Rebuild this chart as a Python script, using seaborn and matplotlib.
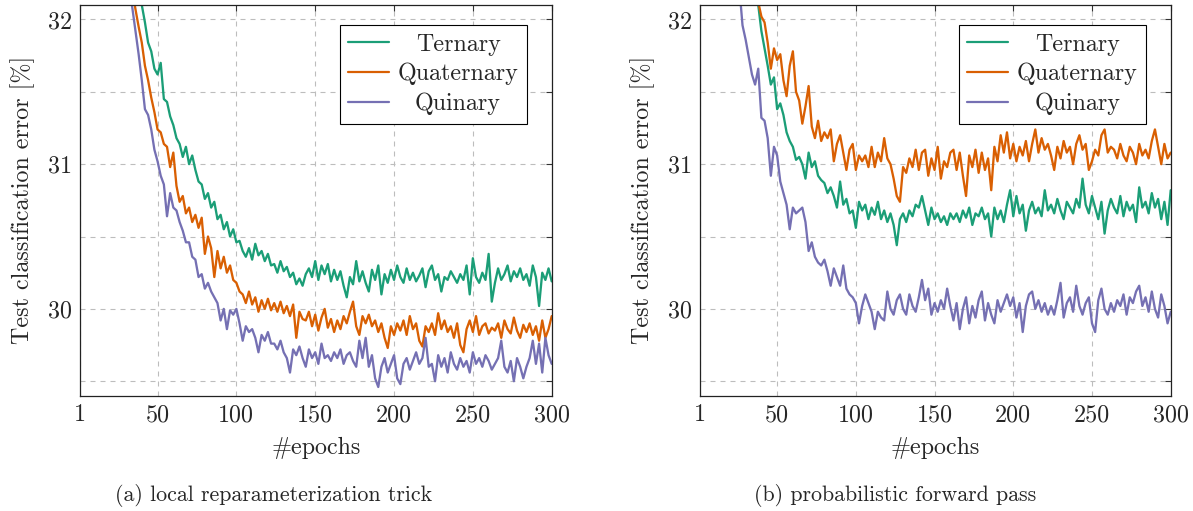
import numpy as np
import pandas as pd
import matplotlib
matplotlib.use("Agg")
import matplotlib.pyplot as plt
import seaborn as sns

# ---------------- data (every 2nd epoch) ----------------
epochs = list(range(24, 301, 2))

lrt_ternary = [
    32.90, 32.80, 32.70, 32.60, 32.50, 32.40, 32.30, 32.22, 32.10, 31.98,
    31.84, 31.78, 31.66, 31.62, 31.70, 31.45, 31.43, 31.33, 31.27, 31.18,
    31.14, 31.05, 31.12, 31.00, 31.06, 30.96, 30.88, 30.86, 30.76, 30.80,
    30.70, 30.74, 30.62, 30.65, 30.55, 30.60, 30.50, 30.55, 30.46, 30.47,
    30.40, 30.36, 30.42, 30.34, 30.45, 30.37, 30.40, 30.33, 30.38, 30.30,
    30.31, 30.25, 30.33, 30.26, 30.29, 30.22, 30.25, 30.17, 30.21, 30.16,
    30.24, 30.28, 30.22, 30.33, 30.20, 30.30, 30.24, 30.31, 30.19, 30.27,
    30.20, 30.26, 30.16, 30.08, 30.22, 30.17, 30.33, 30.19, 30.26, 30.18,
    30.12, 30.27, 30.20, 30.30, 30.10, 30.24, 30.18, 30.27, 30.20, 30.30,
    30.22, 30.18, 30.28, 30.20, 30.25, 30.19, 30.23, 30.28, 30.15, 30.26,
    30.30, 30.20, 30.24, 30.12, 30.22, 30.20, 30.26, 30.22, 30.18, 30.24,
    30.20, 30.30, 30.10, 30.35, 30.22, 30.18, 30.25, 30.20, 30.38, 30.05,
    30.18, 30.28, 30.20, 30.24, 30.30, 30.19, 30.26, 30.22, 30.28, 30.20,
    30.24, 30.16, 30.30, 30.22, 30.02, 30.25, 30.20, 30.28, 30.19,
]
lrt_quaternary = [
    32.80, 32.68, 32.56, 32.44, 32.32, 32.20, 32.07, 31.95, 31.84, 31.68,
    31.58, 31.46, 31.36, 31.24, 31.22, 31.14, 31.12, 30.98, 31.08, 30.85,
    30.74, 30.78, 30.66, 30.70, 30.60, 30.65, 30.56, 30.63, 30.38, 30.50,
    30.42, 30.22, 30.40, 30.28, 30.36, 30.25, 30.30, 30.20, 30.18, 30.12,
    30.10, 30.04, 30.12, 30.03, 30.08, 29.98, 30.06, 30.00, 30.07, 29.99,
    30.04, 29.98, 30.05, 29.97, 30.02, 29.95, 30.03, 29.80, 29.98, 29.93,
    29.92, 29.98, 29.88, 29.96, 29.85, 29.94, 30.00, 29.87, 29.93, 29.84,
    29.92, 29.86, 29.95, 29.90, 29.98, 30.05, 29.88, 29.82, 29.95, 29.90,
    29.96, 29.88, 29.92, 29.84, 29.90, 29.80, 29.73, 29.88, 29.82, 29.90,
    29.85, 29.92, 29.82, 29.95, 29.86, 29.90, 29.78, 29.74, 29.88, 29.84,
    29.90, 29.82, 29.97, 29.86, 29.92, 29.84, 29.88, 29.80, 29.90, 29.75,
    29.70, 29.86, 29.92, 29.84, 29.95, 29.82, 29.88, 29.90, 29.83, 29.87,
    29.85, 29.90, 29.80, 29.92, 29.86, 29.83, 29.94, 29.85, 29.80, 29.89,
    29.84, 29.90, 29.82, 29.88, 29.78, 29.92, 29.80, 29.86, 29.95,
]
lrt_quinary = [
    32.75, 32.62, 32.50, 32.38, 32.22, 32.08, 31.92, 31.76, 31.58, 31.38,
    31.34, 31.24, 31.10, 31.02, 30.92, 30.86, 30.64, 30.80, 30.70, 30.68,
    30.60, 30.54, 30.46, 30.46, 30.36, 30.34, 30.22, 30.24, 30.14, 30.18,
    30.12, 30.08, 30.04, 29.92, 30.00, 29.86, 29.99, 29.96, 30.00, 29.90,
    29.78, 29.88, 29.84, 29.86, 29.80, 29.70, 29.82, 29.78, 29.84, 29.76,
    29.76, 29.72, 29.78, 29.70, 29.66, 29.56, 29.72, 29.68, 29.74, 29.66,
    29.60, 29.72, 29.66, 29.70, 29.62, 29.76, 29.66, 29.68, 29.64, 29.70,
    29.66, 29.72, 29.62, 29.68, 29.70, 29.64, 29.60, 29.78, 29.66, 29.80,
    29.60, 29.68, 29.52, 29.46, 29.60, 29.66, 29.56, 29.62, 29.68, 29.52,
    29.48, 29.62, 29.66, 29.58, 29.64, 29.70, 29.62, 29.66, 29.80, 29.60,
    29.62, 29.50, 29.68, 29.60, 29.66, 29.56, 29.70, 29.62, 29.58, 29.66,
    29.60, 29.64, 29.56, 29.70, 29.62, 29.66, 29.60, 29.68, 29.64, 29.58,
    29.62, 29.66, 29.78, 29.60, 29.56, 29.64, 29.50, 29.66, 29.60, 29.52,
    29.60, 29.66, 29.78, 29.62, 29.76, 29.56, 29.80, 29.68, 29.62,
]

pfp_ternary = [
    32.90, 32.78, 32.66, 32.55, 32.44, 32.33, 32.22, 32.10, 31.92, 31.80,
    31.68, 31.55, 31.60, 31.38, 31.42, 31.34, 31.22, 31.16, 31.12, 31.03,
    31.05, 31.00, 30.90, 31.08, 30.98, 31.02, 30.92, 30.89, 30.87, 30.80,
    30.84, 30.78, 30.70, 30.88, 30.72, 30.76, 30.66, 30.68, 30.56, 30.74,
    30.68, 30.72, 30.62, 30.70, 30.65, 30.74, 30.62, 30.68, 30.60, 30.66,
    30.58, 30.44, 30.62, 30.66, 30.60, 30.68, 30.64, 30.72, 30.70, 30.78,
    30.68, 30.58, 30.70, 30.62, 30.66, 30.60, 30.64, 30.58, 30.66, 30.62,
    30.66, 30.60, 30.68, 30.63, 30.70, 30.58, 30.66, 30.64, 30.70, 30.62,
    30.66, 30.50, 30.70, 30.62, 30.68, 30.60, 30.72, 30.82, 30.64, 30.78,
    30.66, 30.72, 30.54, 30.68, 30.74, 30.66, 30.70, 30.64, 30.82, 30.68,
    30.72, 30.66, 30.76, 30.68, 30.62, 30.74, 30.70, 30.66, 30.76, 30.70,
    30.90, 30.72, 30.66, 30.78, 30.70, 30.62, 30.74, 30.52, 30.68, 30.76,
    30.70, 30.66, 30.78, 30.64, 30.74, 30.68, 30.72, 30.60, 30.84, 30.70,
    30.74, 30.66, 30.80, 30.70, 30.76, 30.62, 30.74, 30.58, 30.82,
]
pfp_quaternary = [
    33.10, 32.96, 32.82, 32.68, 32.55, 32.42, 32.28, 32.12, 32.02, 31.98,
    31.84, 31.66, 31.80, 31.72, 31.76, 31.58, 31.47, 31.68, 31.78, 31.50,
    31.44, 31.28, 31.40, 31.54, 31.26, 31.18, 31.30, 31.16, 31.22, 31.18,
    31.24, 31.02, 31.14, 31.20, 31.08, 30.96, 31.10, 31.14, 30.96, 31.06,
    31.02, 31.06, 30.98, 31.12, 30.98, 31.08, 31.02, 31.18, 31.04, 31.00,
    30.90, 30.78, 30.74, 30.98, 30.94, 31.04, 30.98, 31.10, 30.96, 31.08,
    31.10, 30.92, 31.04, 30.96, 31.12, 30.90, 31.02, 30.98, 31.08, 31.10,
    30.96, 31.08, 30.92, 30.78, 31.06, 30.98, 31.10, 30.94, 31.08, 30.96,
    31.04, 30.82, 31.12, 31.02, 31.20, 31.08, 31.22, 31.04, 31.14, 31.02,
    31.12, 31.06, 31.16, 31.02, 31.14, 31.24, 31.08, 31.18, 31.10, 31.14,
    31.06, 30.96, 31.12, 31.04, 31.16, 31.08, 31.12, 31.00, 31.14, 31.20,
    31.10, 31.14, 30.96, 31.02, 31.10, 31.06, 31.20, 31.24, 31.08, 31.12,
    31.10, 31.04, 31.14, 31.06, 31.02, 31.12, 31.08, 31.00, 31.14, 31.06,
    31.10, 31.04, 31.16, 31.24, 31.12, 31.00, 31.14, 31.04, 31.08,
]
pfp_quinary = [
    32.45, 32.22, 31.96, 31.86, 31.74, 31.62, 31.55, 31.66, 31.32, 31.30,
    31.18, 30.92, 31.12, 31.06, 30.88, 30.80, 30.72, 30.55, 30.70, 30.66,
    30.68, 30.70, 30.60, 30.40, 30.46, 30.36, 30.32, 30.30, 30.34, 30.26,
    30.16, 30.28, 30.22, 30.16, 30.30, 30.14, 30.10, 30.08, 30.04, 29.90,
    30.02, 30.10, 30.04, 29.98, 29.86, 29.98, 29.94, 29.92, 30.12, 30.00,
    29.96, 30.06, 30.10, 30.00, 29.96, 30.10, 30.02, 29.98, 30.08, 30.20,
    30.06, 30.14, 29.96, 30.04, 29.98, 30.06, 30.00, 30.14, 30.02, 29.92,
    30.04, 29.86, 30.00, 30.08, 29.90, 30.02, 29.94, 30.06, 30.12, 29.92,
    30.04, 29.96, 29.90, 30.06, 29.98, 30.04, 30.10, 30.02, 30.08, 29.94,
    30.04, 29.84, 30.02, 30.10, 30.12, 30.00, 30.06, 29.98, 30.04, 29.96,
    30.02, 29.96, 30.06, 30.18, 29.94, 30.04, 30.08, 29.98, 30.16, 30.02,
    29.96, 30.04, 30.08, 29.90, 29.84, 30.06, 30.14, 30.00, 29.96, 30.04,
    29.98, 30.06, 30.02, 30.10, 29.96, 30.08, 30.04, 30.12, 30.16, 30.02,
    30.08, 29.98, 30.12, 30.00, 29.94, 30.10, 30.02, 29.90, 29.98,
]

variants = ["Ternary", "Quaternary", "Quinary"]
colors = ["#1b9e77", "#d95f02", "#7570b3"]
panel_series = [
    [lrt_ternary, lrt_quaternary, lrt_quinary],
    [pfp_ternary, pfp_quaternary, pfp_quinary],
]
captions = ["(a) local reparameterization trick", "(b) probabilistic forward pass"]
x_ticks = [1, 50, 100, 150, 200, 250, 300]
y_ticks = [29.5, 30, 30.5, 31, 31.5, 32]
y_ticklabels = ["", "30", "", "31", "", "32"]
x_label = "#epochs"
y_label = "Test classification error [%]"

for group in panel_series:
    for s in group:
        assert len(s) == len(epochs), len(s)

# ---------------- style ----------------
sns.set_style("white")
plt.rcParams["font.family"] = ["cmr10", "DejaVu Serif"]
plt.rcParams["mathtext.fontset"] = "cm"
plt.rcParams["axes.formatter.use_mathtext"] = True
FS = 17.3
CAP_FS = 15.8

fig = plt.figure(figsize=(11.93, 5.11), dpi=100)
W, H = 1193.0, 511.0
ax_rects = [
    [80.3 / W, 1 - 395.7 / H, 471.4 / W, 390.7 / H],
    [700.0 / W, 1 - 395.7 / H, 470.7 / W, 390.7 / H],
]
caption_x = [273.5 / W, 895.0 / W]

legends = []
for i in range(2):
    ax = fig.add_axes(ax_rects[i])
    rows = []
    for name, vals in zip(variants, panel_series[i]):
        for e, v in zip(epochs, vals):
            rows.append({"epoch": e, "error": v, "Variant": name})
    df = pd.DataFrame(rows)
    sns.lineplot(data=df, x="epoch", y="error", hue="Variant",
                 hue_order=variants, palette=colors, estimator=None,
                 linewidth=1.65, ax=ax)
    ax.set_xlim(1, 300)
    ax.set_ylim(29.40, 32.10)
    ax.set_xticks(x_ticks)
    ax.set_xticklabels([str(t) for t in x_ticks])
    ax.set_yticks(y_ticks)
    ax.set_yticklabels(y_ticklabels)
    ax.grid(True, linestyle=(0, (4.5, 4.5)), color="#bdbdbd", linewidth=0.8)
    ax.set_axisbelow(True)
    ax.tick_params(direction="in", top=True, right=True, length=4.5,
                   width=0.8, labelsize=FS, pad=6.0, color="#333333")
    for sp in ax.spines.values():
        sp.set_color("#222222")
        sp.set_linewidth(0.9)
    ax.set_xlabel(x_label, fontsize=FS, labelpad=8)
    ax.set_ylabel(y_label, fontsize=FS, labelpad=9)
    h, l = ax.get_legend_handles_labels()
    leg = ax.legend(h, l, loc="upper right",
                    bbox_to_anchor=(1 - 24.5 / 471.4, 1 - 20 / 390.7),
                    borderaxespad=0, frameon=True, fancybox=False,
                    edgecolor="black", framealpha=1, fontsize=FS,
                    handlelength=1.7, handletextpad=0.35,
                    labelspacing=0.3, borderpad=0.36)
    leg.get_frame().set_linewidth(0.8)
    for ln in leg.get_lines():
        ln.set_linewidth(1.6)
    legends.append(leg)
    fig.text(caption_x[i], 1 - 495 / H, captions[i], ha="center",
             va="center", fontsize=CAP_FS)

# centre legend texts like pgfplots does
fig.canvas.draw()
r = fig.canvas.get_renderer()
for leg in legends:
    texts = leg.get_texts()
    widths = [t.get_window_extent(r).width for t in texts]
    mw = max(widths)
    for t, w in zip(texts, widths):
        t.set_x((mw - w) / 2.0)

fig.savefig("out.png", dpi=100)
